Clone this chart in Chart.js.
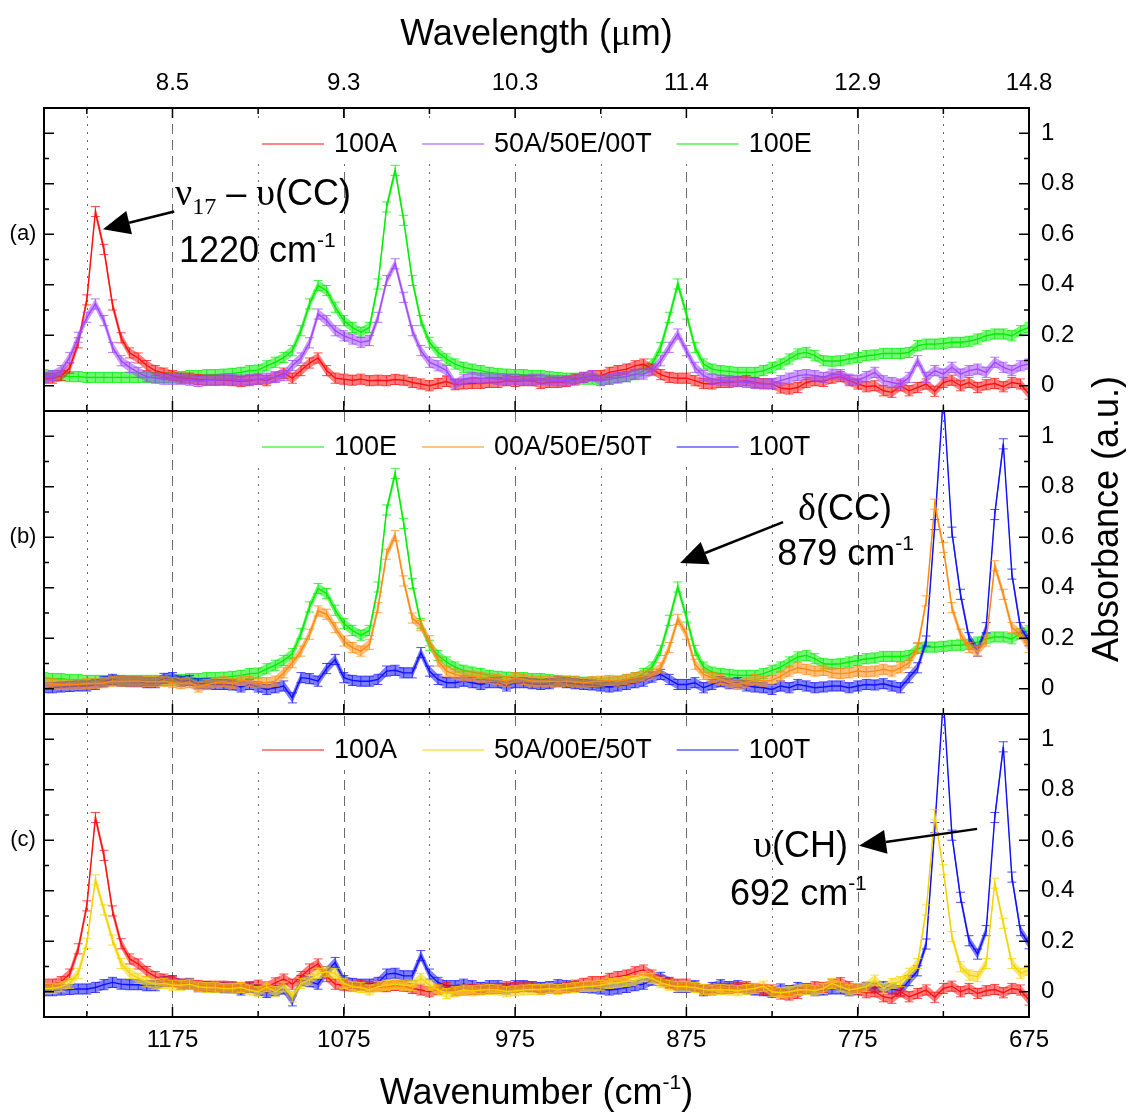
<!DOCTYPE html>
<html>
<head>
<meta charset="utf-8">
<script src="https://cdn.jsdelivr.net/npm/chart.js@4.4.0/dist/chart.umd.min.js"></script>
<style>
  html, body { margin: 0; padding: 0; background: #fff; }
  #wrap { width: 1128px; height: 1113px; }
</style>
</head>
<body>
<div id="wrap"><canvas id="spectra" width="1128" height="1113"></canvas></div>
<script>
// wavenumber grid (cm-1), shared by every spectrum
const wavenumbers = [
  1250, 1245, 1240, 1235, 1230, 1225, 1220, 1215, 1210, 1205,
  1200, 1195, 1190, 1185, 1180, 1175, 1170, 1165, 1160, 1155,
  1150, 1145, 1140, 1135, 1130, 1125, 1120, 1115, 1110, 1105,
  1100, 1095, 1090, 1085, 1080, 1075, 1070, 1065, 1060, 1055,
  1050, 1045, 1040, 1035, 1030, 1025, 1020, 1015, 1010, 1005,
  1000, 995, 990, 985, 980, 975, 970, 965, 960, 955,
  950, 945, 940, 935, 930, 925, 920, 915, 910, 905,
  900, 895, 890, 885, 880, 875, 870, 865, 860, 855,
  850, 845, 840, 835, 830, 825, 820, 815, 810, 805,
  800, 795, 790, 785, 780, 775, 770, 765, 760, 755,
  750, 745, 740, 735, 730, 725, 720, 715, 710, 705,
  700, 695, 690, 685, 680, 675
];

// absorbance of each blend
const abs100A = [
  0.03, 0.03, 0.04, 0.07, 0.17, 0.34, 0.69, 0.54, 0.32, 0.19,
  0.13, 0.11, 0.08, 0.06, 0.05, 0.04, 0.03, 0.03, 0.025, 0.022,
  0.022, 0.022, 0.02, 0.017, 0.02, 0.026, 0.02, 0.035, 0.05, 0.03,
  0.06, 0.09, 0.11, 0.06, 0.03, 0.026, 0.022, 0.026, 0.02, 0.022,
  0.02, 0.025, 0.022, 0.013, 0.007, 0.0, 0.009, 0.017, 0.004, 0.007,
  0.009, 0.009, 0.013, 0.013, 0.02, 0.017, 0.02, 0.02, 0.009, 0.013,
  0.013, 0.017, 0.026, 0.033, 0.04, 0.04, 0.053, 0.06, 0.066, 0.079,
  0.086, 0.066, 0.044, 0.033, 0.03, 0.03, 0.02, 0.009, 0.007, 0.013,
  0.013, 0.017, 0.02, 0.013, 0.009, 0.007, -0.009, -0.013, -0.007, 0.013,
  0.02, 0.017, 0.03, 0.036, 0.02, 0.007, -0.004, 0.0, -0.02, -0.026,
  0.0, -0.02, -0.007, 0.007, -0.022, 0.013, 0.022, 0.0, 0.013, -0.007,
  0.004, 0.009, -0.004, 0.013, 0.007, -0.033
];
const abs50A50E = [
  0.033, 0.04, 0.06, 0.112, 0.192, 0.271, 0.324, 0.258, 0.152, 0.099,
  0.073, 0.053, 0.036, 0.03, 0.026, 0.026, 0.026, 0.022, 0.017, 0.022,
  0.022, 0.026, 0.026, 0.022, 0.025, 0.026, 0.03, 0.033, 0.04, 0.08,
  0.11, 0.17, 0.284, 0.258, 0.218, 0.198, 0.185, 0.172, 0.179, 0.271,
  0.417, 0.483, 0.35, 0.218, 0.139, 0.093, 0.079, 0.06, 0.007, 0.026,
  0.033, 0.03, 0.03, 0.026, 0.026, 0.026, 0.022, 0.026, 0.026, 0.022,
  0.02, 0.02, 0.022, 0.033, 0.04, 0.02, 0.026, 0.033, 0.036, 0.046,
  0.046, 0.06, 0.099, 0.152, 0.205, 0.139, 0.073, 0.04, 0.026, 0.022,
  0.02, 0.017, 0.013, 0.009, 0.007, 0.009, 0.02, 0.03, 0.04, 0.044,
  0.04, 0.033, 0.046, 0.044, 0.026, 0.022, 0.036, 0.053, 0.02, 0.013,
  0.007, 0.033, 0.099, 0.033, 0.06, 0.046, 0.073, 0.046, 0.06, 0.066,
  0.053, 0.093, 0.073, 0.06, 0.079, 0.086
];
const abs100E = [
  0.044, 0.04, 0.04, 0.036, 0.036, 0.033, 0.033, 0.033, 0.033, 0.033,
  0.033, 0.033, 0.033, 0.033, 0.033, 0.033, 0.036, 0.04, 0.04, 0.044,
  0.044, 0.046, 0.049, 0.053, 0.06, 0.062, 0.079, 0.093, 0.112, 0.139,
  0.218, 0.324, 0.397, 0.377, 0.311, 0.258, 0.231, 0.212, 0.231, 0.403,
  0.708, 0.853, 0.655, 0.417, 0.258, 0.172, 0.132, 0.106, 0.086, 0.073,
  0.066, 0.06, 0.053, 0.049, 0.046, 0.044, 0.044, 0.04, 0.04, 0.036,
  0.033, 0.03, 0.03, 0.026, 0.026, 0.022, 0.026, 0.03, 0.036, 0.044,
  0.06, 0.086, 0.152, 0.271, 0.403, 0.284, 0.152, 0.086, 0.066, 0.06,
  0.057, 0.053, 0.053, 0.053, 0.06, 0.073, 0.086, 0.106, 0.126, 0.132,
  0.119, 0.099, 0.097, 0.099, 0.106, 0.112, 0.119, 0.122, 0.128, 0.128,
  0.128, 0.132, 0.159, 0.165, 0.165, 0.168, 0.172, 0.172, 0.176, 0.185,
  0.198, 0.205, 0.205, 0.198, 0.218, 0.231
];
const abs50E50T = [
  0.024, 0.02, 0.017, 0.017, 0.017, 0.02, 0.02, 0.024, 0.03, 0.03,
  0.03, 0.03, 0.028, 0.028, 0.03, 0.024, 0.02, 0.024, 0.007, 0.017,
  0.024, 0.028, 0.02, 0.033, 0.03, 0.024, 0.024, 0.03, 0.063, 0.103,
  0.149, 0.216, 0.308, 0.295, 0.242, 0.189, 0.163, 0.149, 0.176, 0.321,
  0.533, 0.606, 0.427, 0.28, 0.25, 0.19, 0.11, 0.07, 0.057, 0.05,
  0.05, 0.046, 0.041, 0.037, 0.03, 0.044, 0.037, 0.03, 0.03, 0.03,
  0.028, 0.03, 0.028, 0.024, 0.028, 0.03, 0.033, 0.03, 0.037, 0.044,
  0.05, 0.057, 0.083, 0.163, 0.275, 0.216, 0.097, 0.057, 0.044, 0.037,
  0.024, 0.017, 0.024, 0.037, 0.03, 0.033, 0.05, 0.07, 0.083, 0.077,
  0.07, 0.073, 0.063, 0.06, 0.063, 0.07, 0.067, 0.07, 0.077, 0.07,
  0.083, 0.103, 0.163, 0.348, 0.731, 0.56, 0.321, 0.216, 0.163, 0.149,
  0.189, 0.487, 0.374, 0.242, 0.216, 0.163
];
const abs100T = [
  0.004, 0.004, 0.007, 0.009, 0.011, 0.011, 0.017, 0.028, 0.037, 0.03,
  0.028, 0.028, 0.024, 0.024, 0.041, 0.044, 0.03, 0.033, 0.02, 0.02,
  0.017, 0.017, 0.015, 0.007, 0.017, 0.007, -0.003, 0.004, 0.011, -0.036,
  0.044, 0.04, 0.03, 0.08, 0.116, 0.044, 0.033, 0.03, 0.03, 0.037,
  0.07, 0.073, 0.063, 0.063, 0.143, 0.07, 0.037, 0.024, 0.024, 0.03,
  0.024, 0.017, 0.024, 0.024, 0.011, 0.024, 0.024, 0.02, 0.017, 0.02,
  0.028, 0.024, 0.02, 0.017, 0.015, 0.011, 0.007, 0.011, 0.017, 0.024,
  0.03, 0.046, 0.057, 0.037, 0.017, 0.017, 0.024, 0.004, 0.017, 0.028,
  0.02, 0.024, 0.011, 0.007, 0.004, -0.003, 0.011, 0.004, 0.017, 0.011,
  0.004, 0.007, 0.011, 0.011, 0.004, 0.011, 0.017, 0.015, 0.02, 0.011,
  0.004, 0.044, 0.083, 0.189, 0.65, 1.16, 0.62, 0.374, 0.202, 0.149,
  0.242, 0.69, 0.97, 0.454, 0.242, 0.19
];
const abs50A50T = [
  0.013, 0.013, 0.02, 0.033, 0.073, 0.192, 0.443, 0.324, 0.205, 0.112,
  0.073, 0.053, 0.04, 0.03, 0.033, 0.026, 0.026, 0.03, 0.02, 0.017,
  0.017, 0.013, 0.013, 0.017, 0.007, 0.0, 0.02, 0.0, 0.02, -0.02,
  0.033, 0.046, 0.073, 0.079, 0.073, 0.033, 0.02, 0.017, 0.007, 0.02,
  0.026, 0.03, 0.026, 0.026, 0.053, 0.026, 0.007, -0.007, 0.0, 0.007,
  0.004, 0.007, 0.009, 0.007, 0.0, 0.004, 0.007, 0.009, 0.009, 0.013,
  0.009, 0.013, 0.017, 0.02, 0.022, 0.026, 0.033, 0.036, 0.04, 0.044,
  0.06, 0.053, 0.036, 0.026, 0.02, 0.02, 0.017, 0.009, 0.007, 0.009,
  0.007, 0.004, 0.009, 0.013, 0.022, 0.0, -0.004, 0.0, 0.007, 0.009,
  0.004, 0.013, 0.033, 0.02, 0.007, 0.013, 0.02, 0.046, 0.013, 0.033,
  0.04, 0.073, 0.112, 0.324, 0.701, 0.483, 0.218, 0.099, 0.066, 0.06,
  0.112, 0.43, 0.271, 0.112, 0.073, 0.086
];
const errHalf = 0.02;   // +/- uncertainty on every point

// axis ticks
const majorWn = [1175, 1075, 975, 875, 775, 675];
const minorWn = [1225, 1125, 1025, 925, 825, 725];
const absTicks = [0, 0.2, 0.4, 0.6, 0.8, 1];
const absMinor = [0.1, 0.3, 0.5, 0.7, 0.9];
const panelTags = { ya: '(a)', yb: '(b)', yc: '(c)' };

const SANS = '"Liberation Sans", Arial, Helvetica, sans-serif';
const SERIF = '"Liberation Serif", "Times New Roman", serif';
const RED = '#ff1010', VIOLET = '#a048ff', GREEN = '#00ee00',
      ORANGE = '#ff8a10', BLUE = '#1010ff', GOLD = '#f4d400';

function fade(hex, a) {
  const n = parseInt(hex.slice(1), 16);
  return `rgba(${n >> 16}, ${(n >> 8) & 255}, ${n & 255}, ${a})`;
}

function spectrum(label, values, color, panel, order) {
  return {
    label,
    data: wavenumbers.map((wn, i) => ({ x: wn, y: values[i] })),
    xAxisID: 'x',
    yAxisID: panel,
    borderColor: color,
    backgroundColor: color,
    borderWidth: 1.4,
    pointRadius: 0,
    tension: 0,
    fill: false,
    order
  };
}

// text runs for the band labels
const big = `36px ${SANS}`, greek = `38px ${SERIF}`, sup = `21px ${SANS}`;
const annotations = [
  { panel: 'ya', tail: [1174, 0.69], tip: [1215.6, 0.62], rows: [
    { at: [1173.5, 0.716], runs: [{ t: 'ν', f: greek }, { t: '17', f: `24px ${SERIF}`, dy: 9 },
                                  { t: ' – ', f: big }, { t: 'υ', f: greek }, { t: '(CC)', f: big }] },
    { at: [1171.2, 0.49], runs: [{ t: '1220 cm', f: big }, { t: '-1', f: sup, dy: -15 }] }
  ] },
  { panel: 'yb', tail: [818.6, 0.66], tip: [878.7, 0.498], rows: [
    { at: [809.8, 0.668], runs: [{ t: 'δ', f: greek }, { t: '(CC)', f: big }] },
    { at: [822, 0.49], runs: [{ t: '879 cm', f: big }, { t: '-1', f: sup, dy: -15 }] }
  ] },
  { panel: 'yc', tail: [705.3, 0.645], tip: [774.2, 0.578], rows: [
    { at: [836, 0.534], runs: [{ t: 'υ', f: greek }, { t: '(CH)', f: big }] },
    { at: [849.5, 0.344], runs: [{ t: '692 cm', f: big }, { t: '-1', f: sup, dy: -15 }] }
  ] }
];

function drawRuns(ctx, x, y, runs) {
  runs.forEach(r => {
    ctx.font = r.f;
    ctx.fillText(r.t, x, y + (r.dy || 0));
    x += ctx.measureText(r.t).width;
  });
}
function runsWidth(ctx, runs) {
  return runs.reduce((w, r) => { ctx.font = r.f; return w + ctx.measureText(r.t).width; }, 0);
}

function arrow(ctx, x1, y1, x2, y2) {
  const a = Math.atan2(y2 - y1, x2 - x1);
  const len = 27, half = 12;
  const bx = x2 - len * Math.cos(a), by = y2 - len * Math.sin(a);
  ctx.lineWidth = 2.5;
  ctx.beginPath();
  ctx.moveTo(x1, y1);
  ctx.lineTo(bx, by);
  ctx.stroke();
  ctx.beginPath();
  ctx.moveTo(x2, y2);
  ctx.lineTo(bx + half * Math.sin(a), by - half * Math.cos(a));
  ctx.lineTo(bx - half * Math.sin(a), by + half * Math.cos(a));
  ctx.closePath();
  ctx.fill();
}

// legend entries for one panel, laid out left to right
function legendItems(chart, panel) {
  const ctx = chart.ctx;
  const ys = chart.scales[panel];
  const y = ys.top + 36;
  let x = chart.chartArea.left + 218;
  ctx.font = `27px ${SANS}`;
  return chart.data.datasets.filter(d => d.yAxisID === panel).map(d => {
    const item = { d, x, y, tx: x + 72, w: ctx.measureText(d.label).width };
    x = item.tx + item.w + 25;
    return item;
  });
}

const panelPlugin = {
  id: 'panelPlugin',
  beforeDatasetsDraw(chart) {
    const { ctx, chartArea: ca, scales } = chart;
    const xs = scales.x;
    ctx.save();
    ctx.strokeStyle = '#6a6a6a';
    ctx.lineWidth = 1;
    majorWn.concat(minorWn).forEach(wn => {
      const x = Math.round(xs.getPixelForValue(wn)) + 0.5;
      if (x >= ca.right - 1) return;
      ctx.setLineDash(majorWn.includes(wn) ? [10, 6] : [2, 6]);
      ctx.beginPath();
      ctx.moveTo(x, ca.top);
      ctx.lineTo(x, ca.bottom);
      ctx.stroke();
    });
    ctx.setLineDash([]);
    // blank strip behind each legend
    ctx.fillStyle = '#fff';
    ['ya', 'yb', 'yc'].forEach(p => {
      const items = legendItems(chart, p);
      const last = items[items.length - 1];
      ctx.fillRect(items[0].x - 6, items[0].y - 20, last.tx + last.w + 10 - items[0].x + 6, 40);
    });
    ctx.restore();
  },
  beforeDatasetDraw(chart, args) {
    const { ctx, chartArea: ca } = chart;
    const ds = chart.data.datasets[args.index];
    const ys = chart.scales[ds.yAxisID];
    const xs = chart.scales.x;
    ctx.save();
    ctx.beginPath();
    ctx.rect(ca.left, ys.top, ca.right - ca.left, ys.bottom - ys.top);
    ctx.clip();
    const px = ds.data.map(p => xs.getPixelForValue(p.x));
    const lo = ds.data.map(p => ys.getPixelForValue(p.y - errHalf));
    const hi = ds.data.map(p => ys.getPixelForValue(p.y + errHalf));
    // uncertainty envelope
    ctx.fillStyle = fade(ds.borderColor, 0.55);
    ctx.beginPath();
    px.forEach((x, i) => (i ? ctx.lineTo(x, hi[i]) : ctx.moveTo(x, hi[i])));
    for (let i = px.length - 1; i >= 0; i--) ctx.lineTo(px[i], lo[i]);
    ctx.closePath();
    ctx.fill();
    // error bars with caps
    ctx.strokeStyle = fade(ds.borderColor, 0.75);
    ctx.lineWidth = 1;
    ctx.beginPath();
    px.forEach((x, i) => {
      ctx.moveTo(x, lo[i]); ctx.lineTo(x, hi[i]);
      ctx.moveTo(x - 4.5, lo[i]); ctx.lineTo(x + 4.5, lo[i]);
      ctx.moveTo(x - 4.5, hi[i]); ctx.lineTo(x + 4.5, hi[i]);
    });
    ctx.stroke();
  },
  afterDatasetDraw(chart) {
    chart.ctx.restore();
  },
  afterDatasetsDraw(chart) {
    const { ctx, chartArea: ca, scales } = chart;
    const xs = scales.x;
    ctx.save();
    ctx.strokeStyle = '#000';
    ctx.fillStyle = '#000';
    ['ya', 'yb', 'yc'].forEach(p => {
      const ys = scales[p];
      // inward ticks
      ctx.lineWidth = 1.5;
      ctx.beginPath();
      absTicks.concat(absMinor).forEach(v => {
        const y = ys.getPixelForValue(v);
        const len = absTicks.includes(v) ? 10 : 5;
        ctx.moveTo(ca.left, y); ctx.lineTo(ca.left + len, y);
        ctx.moveTo(ca.right, y); ctx.lineTo(ca.right - len, y);
      });
      majorWn.concat(minorWn).forEach(wn => {
        const x = xs.getPixelForValue(wn);
        const len = majorWn.includes(wn) ? 10 : 6;
        ctx.moveTo(x, ys.bottom); ctx.lineTo(x, ys.bottom - len);
        if (p === 'ya') { ctx.moveTo(x, ys.top); ctx.lineTo(x, ys.top + len); }
      });
      ctx.stroke();
      // frame
      ctx.lineWidth = 2;
      ctx.strokeRect(ca.left, ys.top, ca.right - ca.left, ys.bottom - ys.top);
      // panel tag on the left
      ctx.font = `22px ${SANS}`;
      ctx.textAlign = 'center';
      ctx.textBaseline = 'middle';
      ctx.fillText(panelTags[p], ca.left - 21, ys.getPixelForValue(0.6));
      // legend
      legendItems(chart, p).forEach(it => {
        ctx.strokeStyle = it.d.borderColor;
        ctx.lineWidth = 1.2;
        ctx.beginPath();
        ctx.moveTo(it.x, it.y); ctx.lineTo(it.x + 62, it.y);
        ctx.stroke();
        ctx.fillStyle = '#000';
        ctx.font = `27px ${SANS}`;
        ctx.textAlign = 'left';
        ctx.fillText(it.d.label, it.tx, it.y + 1);
      });
      ctx.strokeStyle = '#000';
    });

    // band assignments with arrows
    ctx.textAlign = 'left';
    ctx.textBaseline = 'alphabetic';
    annotations.forEach(n => {
      const ys = scales[n.panel];
      n.rows.forEach(r => {
        drawRuns(ctx, xs.getPixelForValue(r.at[0]), ys.getPixelForValue(r.at[1]), r.runs);
      });
      arrow(ctx, xs.getPixelForValue(n.tail[0]), ys.getPixelForValue(n.tail[1]),
                 xs.getPixelForValue(n.tip[0]), ys.getPixelForValue(n.tip[1]));
    });

    // axis titles
    const midX = (ca.left + ca.right) / 2;
    const top = [{ t: 'Wavelength (', f: `36px ${SANS}` }, { t: 'μ', f: `37px ${SERIF}` }, { t: 'm)', f: `36px ${SANS}` }];
    drawRuns(ctx, midX - runsWidth(ctx, top) / 2, 45, top);
    const bottom = [{ t: 'Wavenumber (cm', f: `36px ${SANS}` }, { t: '-1', f: `21px ${SANS}`, dy: -15 }, { t: ')', f: `36px ${SANS}` }];
    drawRuns(ctx, midX - runsWidth(ctx, bottom) / 2, 1104, bottom);
    ctx.translate(1118, 519);
    ctx.rotate(-Math.PI / 2);
    ctx.font = `36px ${SANS}`;
    ctx.textAlign = 'center';
    ctx.fillText('Absorbance (a.u.)', 0, 0);
    ctx.restore();
  }
};

const tickFont = { family: SANS, size: 24 };

function absAxis() {
  return {
    type: 'linear',
    position: 'right',
    stack: 'panels',
    stackWeight: 1,
    min: -0.1,
    max: 1.1,
    grid: { display: false, drawTicks: false },
    border: { display: false },
    afterBuildTicks: s => { s.ticks = absTicks.map(v => ({ value: v })); },
    afterFit: s => { s.width = 99; },
    ticks: { font: tickFont, color: '#000', padding: 12, callback: v => String(v) }
  };
}

new Chart(document.getElementById('spectra'), {
  type: 'line',
  data: {
    datasets: [
      spectrum('100A', abs100A, RED, 'ya', 1),
      spectrum('50A/50E/00T', abs50A50E, VIOLET, 'ya', 0),
      spectrum('100E', abs100E, GREEN, 'ya', 2),
      spectrum('100E', abs100E, GREEN, 'yb', 2),
      spectrum('00A/50E/50T', abs50E50T, ORANGE, 'yb', 0),
      spectrum('100T', abs100T, BLUE, 'yb', 1),
      spectrum('100A', abs100A, RED, 'yc', 1),
      spectrum('50A/00E/50T', abs50A50T, GOLD, 'yc', 0),
      spectrum('100T', abs100T, BLUE, 'yc', 2)
    ]
  },
  options: {
    responsive: false,
    animation: false,
    devicePixelRatio: 1,
    layout: { padding: { left: 44, right: 0, top: 0, bottom: 0 } },
    plugins: { legend: { display: false }, tooltip: { enabled: false } },
    scales: {
      x: {
        type: 'linear',
        position: 'bottom',
        reverse: true,
        min: 675,
        max: 1250,
        grid: { display: false, drawTicks: false },
        border: { display: false },
        afterBuildTicks: s => { s.ticks = majorWn.map(v => ({ value: v })); },
        afterFit: s => { s.height = 96; },
        ticks: { font: tickFont, color: '#000', padding: 9, maxRotation: 0, autoSkip: false,
                 callback: v => String(v) }
      },
      xTop: {
        type: 'linear',
        position: 'top',
        reverse: true,
        min: 675,
        max: 1250,
        grid: { display: false, drawTicks: false },
        border: { display: false },
        afterBuildTicks: s => { s.ticks = majorWn.map(v => ({ value: v })); },
        afterFit: s => { s.height = 108; },
        ticks: { font: tickFont, color: '#000', padding: 10, maxRotation: 0, autoSkip: false,
                 callback: v => (10000 / v).toFixed(1) }
      },
      ya: absAxis(),
      yb: absAxis(),
      yc: absAxis()
    }
  },
  plugins: [panelPlugin]
});
</script>
</body>
</html>
